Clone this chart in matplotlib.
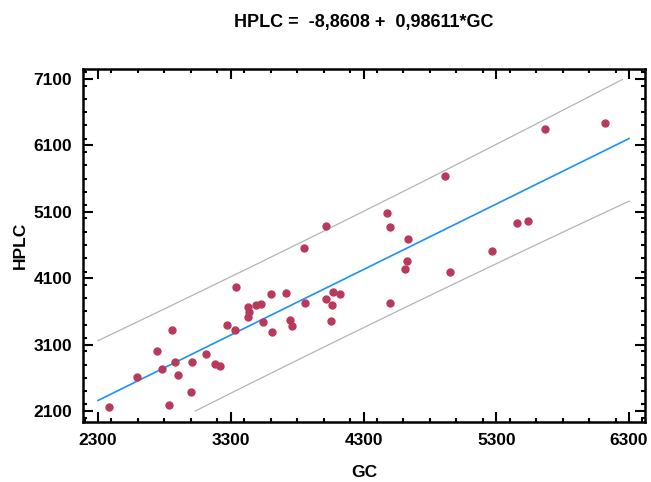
import numpy as np
import matplotlib
matplotlib.use("Agg")
import matplotlib.pyplot as plt
from matplotlib.ticker import MultipleLocator

plt.rcParams['font.family'] = ['Liberation Sans', 'DejaVu Sans']

# data
gc = [2385, 2591, 2746, 2783, 2836, 2859, 2881, 2901, 2999, 3009,
      3117, 3180, 3222, 3275, 3332, 3342, 3430, 3440, 3430, 3488,
      3531, 3543, 3603, 3611, 3714, 3749, 3759, 3851, 3859, 4019,
      4054, 4069, 4064, 4120, 4478, 4501, 4638, 4917, 5458, 5535,
      5663, 6122, 4019, 4626, 4613, 4501, 4952, 5268]
hplc = [2165, 2617, 3008, 2737, 2190, 3320, 2843, 2638, 2391, 2843,
        2954, 2803, 2778, 3400, 3320, 3972, 3671, 3596, 3520, 3701,
        3711, 3436, 3858, 3294, 3872, 3471, 3380, 4550, 3722, 3791,
        3455, 3888, 3696, 3862, 5077, 4876, 4690, 5639, 4927, 4961,
        6342, 6433, 4891, 4359, 4238, 3731, 4198, 4510]
intercept = -8.8608
slope = 0.98611
x_range = (2300, 6300)
y_range = (2100, 7100)

gc = np.array(gc, dtype=float)
hplc = np.array(hplc, dtype=float)
n = len(gc)
resid = hplc - (intercept + slope * gc)
s = np.sqrt(np.sum(resid ** 2) / (n - 2))
sxx = np.sum((gc - gc.mean()) ** 2)
t = 2.013

xs = np.linspace(x_range[0], x_range[1], 400)
fit = intercept + slope * xs
half = t * s * np.sqrt(1 + 1 / n + (xs - gc.mean()) ** 2 / sxx)
upper = fit + half
lower = fit - half
upper[(upper > y_range[1]) | (upper < y_range[0])] = np.nan
lower[(lower > y_range[1]) | (lower < y_range[0])] = np.nan

fig = plt.figure(figsize=(6.51, 4.82), dpi=100)
ax = fig.add_axes([0.1275, 0.125, 0.8633, 0.7312])

ax.plot(xs, upper, color='#b4b4b4', lw=0.9)
ax.plot(xs, lower, color='#b4b4b4', lw=0.9)
ax.plot(xs, fit, color='#1e8fff', lw=1.2)
ax.plot(gc, hplc, 'o', color='#b8395c', ms=5, mec='#b8395c')

ax.set_xlim(2187, 6420)
ax.set_ylim(1939, 7246)
ax.set_xticks([2300, 3300, 4300, 5300, 6300])
ax.set_yticks([2100, 3100, 4100, 5100, 6100, 7100])
ax.xaxis.set_minor_locator(MultipleLocator(200))
ax.yaxis.set_minor_locator(MultipleLocator(200))
ax.tick_params(which='both', direction='in', top=True, right=True, width=1.5)
ax.tick_params(which='major', length=7, labelsize=12.5, pad=8)
ax.tick_params(which='minor', length=3)
for lab in ax.get_xticklabels() + ax.get_yticklabels():
    lab.set_fontweight('bold')
for sp in ax.spines.values():
    sp.set_linewidth(1.8)

ax.set_xlabel('GC', fontsize=12.5, fontweight='bold', labelpad=12)
ax.set_ylabel('HPLC', fontsize=12.5, fontweight='bold', labelpad=4)
fig.text(0.558, 0.953, 'HPLC =  -8,8608 +  0,98611*GC', ha='center', va='center',
         fontsize=13, fontweight='bold')

fig.savefig('out.png', dpi=100)
